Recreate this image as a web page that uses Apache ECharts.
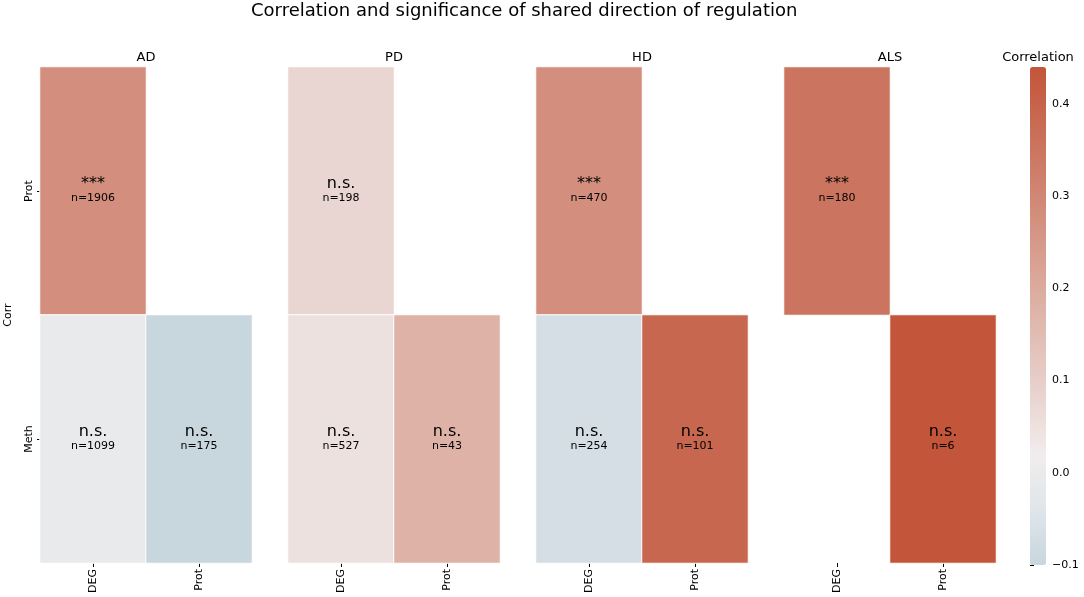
<!DOCTYPE html>
<html>
<head>
<meta charset="utf-8">
<script src="https://cdn.jsdelivr.net/npm/echarts@6/dist/echarts.min.js"></script>
<style>
  html, body { margin: 0; padding: 0; background: #fff; }
  #main { width: 1084px; height: 597px; }
</style>
</head>
<body>
<div id="main"></div>
<script>
// panels, columns, rows
var diseases = ['AD', 'PD', 'HD', 'ALS'];
var colCats = ['DEG', 'Prot'];
var rowCats = ['Prot', 'Meth'];

// correlation per panel: rows Prot, Meth ; cols DEG, Prot (null = empty)
var corrAD  = [[0.28, null], [-0.01, -0.10]];
var corrPD  = [[0.08, null], [0.05, 0.18]];
var corrHD  = [[0.28, null], [-0.07, 0.39]];
var corrALS = [[0.35, null], [null, 0.44]];

var sigAD  = [['***', null], ['n.s.', 'n.s.']];
var sigPD  = [['n.s.', null], ['n.s.', 'n.s.']];
var sigHD  = [['***', null], ['n.s.', 'n.s.']];
var sigALS = [['***', null], [null, 'n.s.']];

var nAD  = [[1906, null], [1099, 175]];
var nPD  = [[198, null], [527, 43]];
var nHD  = [[470, null], [254, 101]];
var nALS = [[180, null], [null, 6]];

var cbTicks = [-0.1, 0.0, 0.1, 0.2, 0.3, 0.4];

var corrs = [corrAD, corrPD, corrHD, corrALS];
var sigs = [sigAD, sigPD, sigHD, sigALS];
var ns = [nAD, nPD, nHD, nALS];

var font = 'DejaVu Sans';
var lefts = [40, 288, 536, 784];
var panelW = 212, top0 = 67, panelH = 496;

var chart = echarts.init(document.getElementById('main'));

var grids = [], xAxes = [], yAxes = [], series = [], titles = [];

titles.push({
  text: 'Correlation and significance of shared direction of regulation',
  left: 251, top: 2, padding: 0,
  textStyle: { fontFamily: font, fontSize: 18, fontWeight: 'normal', color: '#000' }
});

diseases.forEach(function (d, i) {
  grids.push({ left: lefts[i], top: top0, width: panelW, height: panelH });
  titles.push({
    text: d, left: lefts[i] + panelW / 2, top: 51, textAlign: 'center', padding: 0,
    textStyle: { fontFamily: font, fontSize: 13, fontWeight: 'normal', color: '#000' }
  });
  xAxes.push({
    type: 'category', gridIndex: i, data: colCats, position: 'bottom',
    axisLine: { show: false },
    axisTick: { show: true, length: 4, alignWithLabel: true, lineStyle: { color: '#000' } },
    axisLabel: { rotate: 90, fontFamily: font, fontSize: 11, color: '#000', margin: 6 },
    splitArea: { show: false }
  });
  yAxes.push({
    type: 'category', gridIndex: i, data: rowCats, inverse: true,
    name: i === 0 ? 'Corr' : '', nameLocation: 'middle', nameRotate: 90, nameGap: 26,
    nameTextStyle: { fontFamily: font, fontSize: 11, color: '#000' },
    axisLine: { show: false },
    axisTick: { show: i === 0, length: 3, alignWithLabel: true, lineStyle: { color: '#000' } },
    axisLabel: { show: i === 0, rotate: 90, fontFamily: font, fontSize: 11, color: '#000', margin: 5 }
  });
  var data = [];
  for (var r = 0; r < rowCats.length; r++) {
    for (var c = 0; c < colCats.length; c++) {
      if (corrs[i][r][c] !== null) data.push([c, r, corrs[i][r][c]]);
    }
  }
  series.push({
    type: 'heatmap', xAxisIndex: i, yAxisIndex: i, data: data,
    itemStyle: { borderColor: '#fff', borderWidth: 1 },
    label: {
      show: true,
      formatter: (function (idx) {
        return function (p) {
          var c = p.data[0], r = p.data[1];
          return '{s|' + sigs[idx][r][c] + '}\n{n|n=' + ns[idx][r][c] + '}';
        };
      })(i),
      rich: {
        s: { fontFamily: font, fontSize: 16, color: '#000', lineHeight: 15 },
        n: { fontFamily: font, fontSize: 11, color: '#000', lineHeight: 14 }
      }
    },
    emphasis: { disabled: true }
  });
});

// colourbar axis
grids.push({ left: 1030, top: top0, width: 16, height: 498 });
xAxes.push({
  type: 'value', gridIndex: 4, show: false,
  axisLine: { show: false }, axisTick: { show: false }, axisLabel: { show: false }, splitLine: { show: false }
});
yAxes.push({
  type: 'value', gridIndex: 4, min: -0.1, max: 0.44, interval: 0.1, position: 'right',
  axisLine: { show: false },
  splitLine: { show: false },
  axisTick: { show: true, length: 4, lineStyle: { color: '#000' } },
  axisLabel: {
    fontFamily: font, fontSize: 11, color: '#000', margin: 6, showMaxLabel: false,
    formatter: function (v) {
      var t = cbTicks.find(function (k) { return Math.abs(k - v) < 1e-6; });
      if (t === undefined) return '';
      return t < 0 ? '\u2212' + Math.abs(t).toFixed(1) : t.toFixed(1);
    }
  }
});
titles.push({
  text: 'Correlation', left: 1038, top: 51, textAlign: 'center', padding: 0,
  textStyle: { fontFamily: font, fontSize: 13, fontWeight: 'normal', color: '#000' }
});

chart.setOption({
  backgroundColor: '#fff',
  animation: false,
  title: titles,
  grid: grids,
  xAxis: xAxes,
  yAxis: yAxes,
  visualMap: {
    type: 'continuous', min: -0.1, max: 0.44, seriesIndex: [0, 1, 2, 3], dimension: 2,
    left: 1030, top: top0, itemWidth: 16, itemHeight: 498, padding: 0,
    calculable: false, hoverLink: false, showLabel: false, indicatorSize: 0,
    inRange: {
      color: ['#c8d6de', '#dfe6ea', '#f1eded', '#e9d5d1', '#e2c0b7', '#dcab9e',
              '#d59585', '#ce806c', '#c86a53', '#c3553a']
    }
  },
  series: series
});
</script>
</body>
</html>
